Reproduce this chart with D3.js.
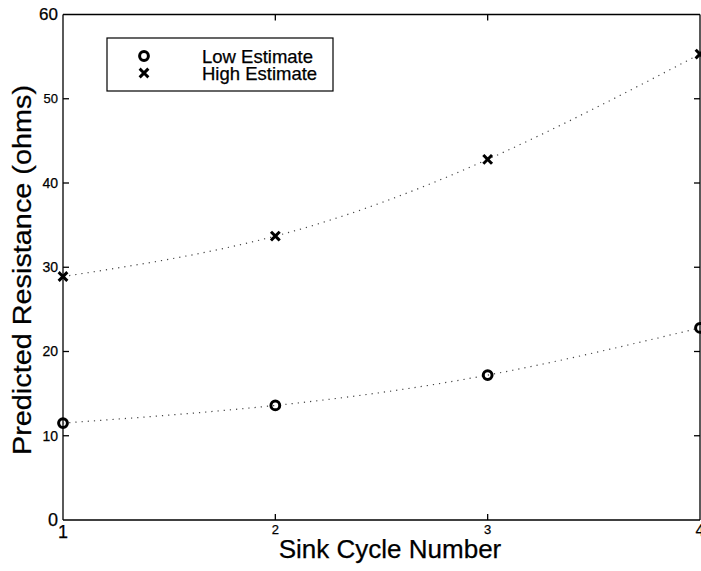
<!DOCTYPE html>
<html>
<head>
<meta charset="utf-8">
<script src="https://cdn.jsdelivr.net/npm/d3@7"></script>
<style>
  body { margin: 0; background: #fff; }
  svg { display: block; font-family: "Liberation Sans", Arial, Helvetica, sans-serif; }
  svg text { stroke: #000; stroke-width: 0.25; }
  .frame line { stroke: #000; stroke-width: 1.3; }
  .fit { fill: none; stroke: #444; stroke-width: 1.2; stroke-dasharray: 1.2 5; }
</style>
</head>
<body>
<svg id="chart" width="701" height="571"></svg>
<script>
// data
const cycles = [1, 2, 3, 4];
const lowEstimate = [11.5, 13.6, 17.2, 22.8];
const highEstimate = [28.9, 33.7, 42.8, 55.3];

const xTicks = [1, 2, 3, 4];
const yTicks = [0, 10, 20, 30, 40, 50, 60];
const xTitle = 'Sink Cycle Number';
const yTitle = 'Predicted Resistance (ohms)';
const legendLabels = ['Low Estimate', 'High Estimate'];

// the scanned labels are not all the same size
const xTickSize = { 1: 18, 2: 13, 3: 13, 4: 16 };
const yTickSize = { 0: 18, 10: 14, 20: 14, 30: 14, 40: 14, 50: 13, 60: 17 };

const margin = { top: 14.5, right: 1, bottom: 51, left: 63 };

const svg = d3.select('#chart');
const width = +svg.attr('width') - margin.left - margin.right;
const height = +svg.attr('height') - margin.top - margin.bottom;

const g = svg.append('g')
  .attr('transform', `translate(${margin.left},${margin.top})`);

const x = d3.scaleLinear().domain([1, 4]).range([0, width]);
const y = d3.scaleLinear().domain([0, 60]).range([height, 0]);

// box with inward ticks on all four sides
const frame = g.append('g').attr('class', 'frame');
frame.append('line').attr('x1', 0).attr('x2', width).attr('y1', height).attr('y2', height);
frame.append('line').attr('x1', 0).attr('x2', width).attr('y1', 0).attr('y2', 0);
frame.append('line').attr('x1', 0).attr('x2', 0).attr('y1', 0).attr('y2', height);
frame.append('line').attr('x1', width).attr('x2', width).attr('y1', 0).attr('y2', height);

const tl = 6;
const inner = (v, lo, hi) => v > lo && v < hi;
xTicks.filter(t => inner(t, 1, 4)).forEach(t => {
  frame.append('line').attr('x1', x(t)).attr('x2', x(t)).attr('y1', height).attr('y2', height - tl);
  frame.append('line').attr('x1', x(t)).attr('x2', x(t)).attr('y1', 0).attr('y2', tl);
});
yTicks.filter(t => inner(t, 0, 60)).forEach(t => {
  frame.append('line').attr('x1', 0).attr('x2', tl).attr('y1', y(t)).attr('y2', y(t));
  frame.append('line').attr('x1', width).attr('x2', width - tl).attr('y1', y(t)).attr('y2', y(t));
});

// tick labels
g.append('g').selectAll('text')
  .data(xTicks)
  .enter()
  .append('text')
    .attr('x', d => x(d))
    .attr('y', height + 4)
    .attr('dy', '0.75em')
    .attr('text-anchor', 'middle')
    .style('font-size', d => xTickSize[d] + 'px')
    .text(d => d);

g.append('g').selectAll('text')
  .data(yTicks)
  .enter()
  .append('text')
    .attr('x', -5)
    .attr('y', d => y(d))
    .attr('dy', '0.35em')
    .attr('text-anchor', 'end')
    .style('font-size', d => yTickSize[d] + 'px')
    .text(d => d);

// axis titles
svg.append('text')
  .attr('x', 390)
  .attr('y', 558)
  .attr('text-anchor', 'middle')
  .style('font-size', '26px')
  .text(xTitle);

svg.append('text')
  .attr('transform', 'translate(31,270) rotate(-90)')
  .attr('text-anchor', 'middle')
  .attr('textLength', 370)
  .attr('lengthAdjust', 'spacingAndGlyphs')
  .style('font-size', '26px')
  .text(yTitle);

// dotted fits through the estimates
const line = d3.line()
  .x((d, i) => x(cycles[i]))
  .y(d => y(d))
  .curve(d3.curveNatural);

g.append('path').attr('class', 'fit').attr('d', line(lowEstimate));
g.append('path').attr('class', 'fit').attr('d', line(highEstimate));

// markers
const drawCircle = (sel, cx, cy) => sel.append('circle')
  .attr('cx', cx).attr('cy', cy).attr('r', 4.4)
  .attr('fill', 'none').attr('stroke', '#000').attr('stroke-width', 3);

const drawCross = (sel, cx, cy) => sel.append('path')
  .attr('d', `M${cx - 3.3},${cy - 3.3}L${cx + 3.3},${cy + 3.3}M${cx - 3.3},${cy + 3.3}L${cx + 3.3},${cy - 3.3}`)
  .attr('stroke', '#000').attr('stroke-width', 3).attr('stroke-linecap', 'square');

const marks = g.append('g');
lowEstimate.forEach((v, i) => drawCircle(marks, x(cycles[i]), y(v)));
highEstimate.forEach((v, i) => drawCross(marks, x(cycles[i]), y(v)));

// legend
const legend = svg.append('g').attr('transform', 'translate(107,38)');
legend.append('rect')
  .attr('width', 226).attr('height', 53)
  .attr('fill', '#fff').attr('stroke', '#000').attr('stroke-width', 1.2);

drawCircle(legend, 37, 18);
drawCross(legend, 37, 35);

legend.selectAll('text.lbl')
  .data(legendLabels)
  .enter()
  .append('text')
    .attr('class', 'lbl')
    .attr('x', 95)
    .attr('y', (d, i) => 25 + i * 17)
    .style('font-size', '18.5px')
    .text(d => d);
</script>
</body>
</html>
